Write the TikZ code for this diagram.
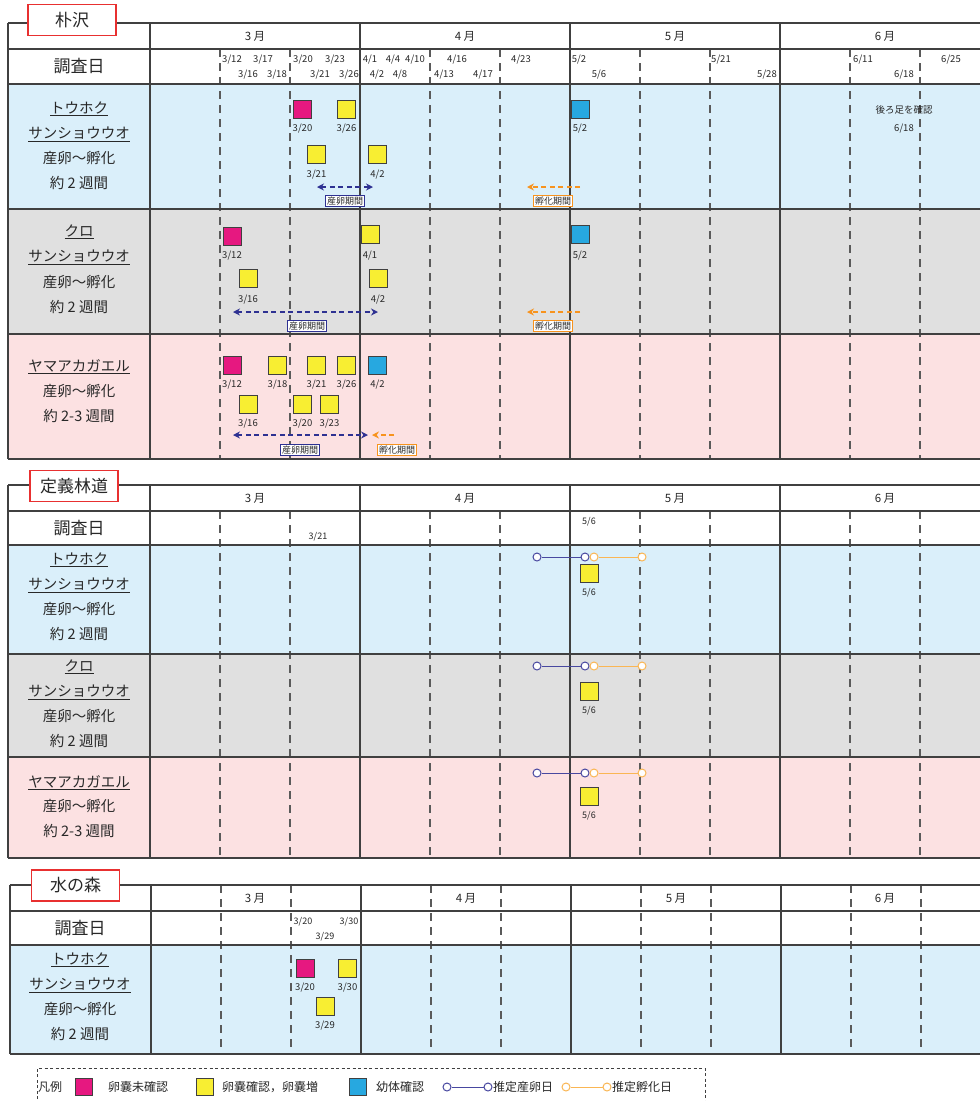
\documentclass[tikz,border=0pt]{standalone}
\usepackage{fontspec}
\setmainfont{Noto Sans CJK JP}
\usetikzlibrary{arrows.meta}
\definecolor{fblue}{RGB}{218,239,250}
\definecolor{fgray}{RGB}{224,224,224}
\definecolor{fpink}{RGB}{252,225,226}
\definecolor{cmag}{RGB}{230,24,128}
\definecolor{cyel}{RGB}{248,238,50}
\definecolor{ccyan}{RGB}{39,168,224}
\definecolor{cnavy}{RGB}{46,49,146}
\definecolor{corange}{RGB}{247,147,30}
\definecolor{clorange}{RGB}{250,182,84}
\definecolor{cline}{RGB}{72,72,160}
\definecolor{grd}{RGB}{64,64,64}
\definecolor{dshc}{RGB}{90,90,90}
\definecolor{txt}{RGB}{40,40,40}
\definecolor{cred}{RGB}{232,48,48}
\tikzset{
  gl/.style={draw=grd, line width=1.1pt},
  dsh/.style={draw=dshc, line width=1.3pt, dash pattern=on 8pt off 6pt},
  sq/.style={draw=grd, line width=0.9pt, minimum size=18pt, inner sep=0pt},
  sqm/.style={sq, fill=cmag}, sqy/.style={sq, fill=cyel}, sqc/.style={sq, fill=ccyan},
  date/.style={font=\fontsize{9.5}{10}\selectfont, text=txt, inner sep=0pt, anchor=base, yshift=-3.5pt},
  sdate/.style={font=\fontsize{9}{10}\selectfont, text=txt, inner sep=0pt, anchor=base, yshift=-3.3pt},
  mon/.style={font=\fontsize{11.5}{12}\selectfont, text=txt, inner sep=0pt, anchor=base, yshift=-4.4pt},
  rl/.style={font=\fontsize{14.5}{15}\selectfont, text=txt, inner sep=0pt, anchor=base, yshift=-5.5pt},
  hd/.style={font=\fontsize{17}{18}\selectfont, text=txt, inner sep=0pt, anchor=base, yshift=-6.4pt},
  ttl/.style={draw=cred, line width=1.3pt, fill=white, minimum width=88pt, minimum height=31pt, font=\fontsize{17}{18}\selectfont, text=txt, inner sep=0pt},
  pbox/.style={draw=#1, line width=0.9pt, fill=white, font=\fontsize{9}{10}\selectfont, text=txt, inner sep=1.6pt},
  barr/.style={draw=cnavy, line width=1.5pt, dash pattern=on 5pt off 3.5pt, {Stealth[length=7pt,width=7pt]}-{Stealth[length=7pt,width=7pt]}},
  oarr/.style={draw=corange, line width=1.5pt, dash pattern=on 5pt off 3.5pt, -{Stealth[length=7pt,width=7pt]}},
  circ/.style={circle, draw=#1, fill=white, line width=1pt, minimum size=8pt, inner sep=0pt},
  lt/.style={font=\fontsize{12}{13}\selectfont, text=txt, inner sep=0pt, anchor=base west, yshift=-4.6pt},
}
\begin{document}
\begin{tikzpicture}[x=1pt,y=-1pt]
\useasboundingbox (0,0) rectangle (980,1101);
\fill[white] (0,0) rectangle (980,1101);

% ================= Section 1 =================
\fill[fblue] (8,84) rectangle (980,209);
\fill[fgray] (8,209) rectangle (980,334);
\fill[fpink] (8,334) rectangle (980,459);
\foreach \x in {220,290,430,500,640,710,850,920} \draw[dsh] (\x,49) -- (\x,459);
\foreach \y in {23,49,84,209,334,459} \draw[gl] (8,\y) -- (980,\y);
\foreach \x in {8,150,360,570,780} \draw[gl] (\x,23) -- (\x,459);
\node[ttl] (t1) at (72,20) {朴沢};
\node[mon] (a3) at (255,36) {3 月};
\node[mon] (a4) at (465,36) {4 月};
\node[mon] (a5) at (675,36) {5 月};
\node[mon] (a6) at (885,36) {6 月};
\node[hd] (ad) at (79,66) {調査日};
\foreach \x/\m/\d in {232/3/12,263/3/17,303/3/20,335/3/23,370/4/1,393/4/4,415/4/10,457/4/16,521/4/23,579/5/2,721/5/21,863/6/11,951/6/25}
  \node[date] at (\x,59) {\m/\d};
\foreach \x/\m/\d in {248/3/16,277/3/18,320/3/21,349/3/26,377/4/2,400/4/8,444/4/13,483/4/17,599/5/6,767/5/28,904/6/18}
  \node[date] at (\x,74) {\m/\d};
% left labels
\node[rl] (r1a) at (79,108) {\underline{トウホク}};
\node[rl] (r1b) at (79,133) {\underline{サンショウウオ}};
\node[rl] (r1c) at (79,158) {産卵〜孵化};
\node[rl] (r1d) at (79,183) {約 2 週間};
\node[rl] (r2a) at (79,231) {\underline{クロ}};
\node[rl] (r2b) at (79,256) {\underline{サンショウウオ}};
\node[rl] (r2c) at (79,282) {産卵〜孵化};
\node[rl] (r2d) at (79,307) {約 2 週間};
\node[rl] (r3a) at (79,366) {\underline{ヤマアカガエル}};
\node[rl] (r3b) at (79,391) {産卵〜孵化};
\node[rl] (r3c) at (79,416) {約 2-3 週間};
% row 1
\node[sqm] (s11) at (302.5,109) {}; \node[date] at (302.5,128) {3/20};
\node[sqy] (s12) at (346.5,109) {}; \node[date] at (346.5,128) {3/26};
\node[sqy] (s13) at (316.5,154.5) {}; \node[date] at (316.5,174) {3/21};
\node[sqy] (s14) at (377.5,154.5) {}; \node[date] at (377.5,174) {4/2};
\node[sqc] (s15) at (580,109) {}; \node[date] at (580,128) {5/2};
\node[font=\fontsize{9.5}{10}\selectfont, text=txt, inner sep=0pt] (note) at (904,110) {後ろ足を確認};
\node[date] at (904,128) {6/18};
\coordinate (b1s) at (317,187); \coordinate (b1e) at (373,187);
\draw[barr] (b1s) -- (b1e);
\coordinate (o1s) at (580,187); \coordinate (o1e) at (527,187);
\draw[oarr] (o1s) -- (o1e);
\node[pbox=cnavy] (p1) at (345,201) {産卵期間};
\node[pbox=corange] (h1) at (553,201) {孵化期間};
% row 2
\node[sqm] (s21) at (232,236) {}; \node[date] at (232,255) {3/12};
\node[sqy] (s22) at (370,234) {}; \node[date] at (370,255) {4/1};
\node[sqy] (s23) at (248,278.5) {}; \node[date] at (248,299) {3/16};
\node[sqy] (s24) at (378,278.5) {}; \node[date] at (378,299) {4/2};
\node[sqc] (s25) at (580,234) {}; \node[date] at (580,255) {5/2};
\coordinate (b2s) at (233,312); \coordinate (b2e) at (378,312);
\draw[barr] (b2s) -- (b2e);
\coordinate (o2s) at (580,312); \coordinate (o2e) at (527,312);
\draw[oarr] (o2s) -- (o2e);
\node[pbox=cnavy] (p2) at (307,326) {産卵期間};
\node[pbox=corange] (h2) at (553,326) {孵化期間};
% row 3
\node[sqm] (s31) at (232,365) {}; \node[date] at (232,384) {3/12};
\node[sqy] (s32) at (277.5,365) {}; \node[date] at (277.5,384) {3/18};
\node[sqy] (s33) at (316.5,365) {}; \node[date] at (316.5,384) {3/21};
\node[sqy] (s34) at (346.5,365) {}; \node[date] at (346.5,384) {3/26};
\node[sqc] (s35) at (377.5,365) {}; \node[date] at (377.5,384) {4/2};
\node[sqy] (s36) at (248,404) {}; \node[date] at (248,423) {3/16};
\node[sqy] (s37) at (302.5,404) {}; \node[date] at (302.5,423) {3/20};
\node[sqy] (s38) at (329.5,404) {}; \node[date] at (329.5,423) {3/23};
\coordinate (b3s) at (233,435); \coordinate (b3e) at (368,435);
\draw[barr] (b3s) -- (b3e);
\coordinate (o3s) at (394,435); \coordinate (o3e) at (372,435);
\draw[oarr] (o3s) -- (o3e);
\node[pbox=cnavy] (p3) at (300,450) {産卵期間};
\node[pbox=corange] (h3) at (397,450) {孵化期間};

% ================= Section 2 =================
\fill[fblue] (8,545) rectangle (980,654);
\fill[fgray] (8,654) rectangle (980,757);
\fill[fpink] (8,757) rectangle (980,858);
\foreach \x in {220,290,430,500,640,710,850,920} \draw[dsh] (\x,511) -- (\x,858);
\foreach \y in {485,511,545,654,757,858} \draw[gl] (8,\y) -- (980,\y);
\foreach \x in {8,150,360,570,780} \draw[gl] (\x,485) -- (\x,858);
\node[ttl] (t2) at (74,486) {定義林道};
\node[mon] (b3) at (255,498) {3 月};
\node[mon] (b4) at (465,498) {4 月};
\node[mon] (b5) at (675,498) {5 月};
\node[mon] (b6) at (885,498) {6 月};
\node[hd] (bd) at (79,528) {調査日};
\node[sdate] at (318,536) {3/21};
\node[sdate] at (589,521) {5/6};
\node[rl] (u1a) at (79,559) {\underline{トウホク}};
\node[rl] (u1b) at (79,584) {\underline{サンショウウオ}};
\node[rl] (u1c) at (79,609) {産卵〜孵化};
\node[rl] (u1d) at (79,634) {約 2 週間};
\node[rl] (u2a) at (79,666) {\underline{クロ}};
\node[rl] (u2b) at (79,691) {\underline{サンショウウオ}};
\node[rl] (u2c) at (79,716) {産卵〜孵化};
\node[rl] (u2d) at (79,741) {約 2 週間};
\node[rl] (u3a) at (79,782) {\underline{ヤマアカガエル}};
\node[rl] (u3b) at (79,806) {産卵〜孵化};
\node[rl] (u3c) at (79,831) {約 2-3 週間};
\foreach \r/\yc/\ys in {1/557/573, 2/666/691, 3/773/796} {
  \node[circ=cline] (e\r a) at (537,\yc) {};
  \node[circ=cline] (e\r b) at (585,\yc) {};
  \node[circ=clorange] (h\r a) at (594,\yc) {};
  \node[circ=clorange] (h\r b) at (642,\yc) {};
  \draw[cline, line width=1pt] (e\r a) -- (e\r b);
  \draw[clorange, line width=1pt] (h\r a) -- (h\r b);
  \node[sqy] (q\r) at (589,\ys) {};
  \node[sdate] at (589,\ys+19.5) {5/6};
}

% ================= Section 3 =================
\fill[fblue] (10,945) rectangle (980,1054);
\foreach \x in {221,291,431,501,641,711,851,921} \draw[dsh] (\x,885) -- (\x,1054);
\foreach \y in {885,911,945,1054} \draw[gl] (10,\y) -- (980,\y);
\foreach \x in {10,151,361,571,781} \draw[gl] (\x,885) -- (\x,1054);
\node[ttl] (t3) at (75.5,885.5) {水の森};
\node[mon] (c3) at (255,898) {3 月};
\node[mon] (c4) at (466,898) {4 月};
\node[mon] (c5) at (676,898) {5 月};
\node[mon] (c6) at (885,898) {6 月};
\node[hd] (cd) at (80,928) {調査日};
\node[sdate] at (303,921) {3/20};
\node[sdate] at (349,921) {3/30};
\node[sdate] at (325,936) {3/29};
\node[rl] (w1a) at (80,959) {\underline{トウホク}};
\node[rl] (w1b) at (80,984) {\underline{サンショウウオ}};
\node[rl] (w1c) at (80,1009) {産卵〜孵化};
\node[rl] (w1d) at (80,1034) {約 2 週間};
\node[sqm] (v1) at (305,968) {}; \node[date] at (305,987) {3/20};
\node[sqy] (v2) at (347.5,968) {}; \node[date] at (347.5,987) {3/30};
\node[sqy] (v3) at (325,1006) {}; \node[date] at (325,1025) {3/29};

% ================= Legend =================
\draw[grd, line width=0.9pt, dash pattern=on 3pt off 2.5pt] (37,1110) -- (37,1068) -- (705,1068) -- (705,1110);
\node[lt] (l0) at (38,1087) {凡例};
\node[sqm, minimum size=17pt] (l1) at (83.5,1087) {};
\node[lt] (l1t) at (108,1087) {卵嚢未確認};
\node[sqy, minimum size=17pt] (l2) at (204.5,1087) {};
\node[lt] (l2t) at (222,1087) {卵嚢確認，卵嚢増};
\node[sqc, minimum size=17pt] (l3) at (357.5,1087) {};
\node[lt] (l3t) at (376,1087) {幼体確認};
\node[circ=cline] (l4a) at (447,1087) {};
\node[circ=cline] (l4b) at (488,1087) {};
\draw[cline, line width=1pt] (l4a) -- (l4b);
\node[lt] (l4t) at (493,1087) {推定産卵日};
\node[circ=clorange] (l5a) at (566,1087) {};
\node[circ=clorange] (l5b) at (607,1087) {};
\draw[clorange, line width=1pt] (l5a) -- (l5b);
\node[lt] (l5t) at (612,1087) {推定孵化日};
\end{tikzpicture}
\end{document}
